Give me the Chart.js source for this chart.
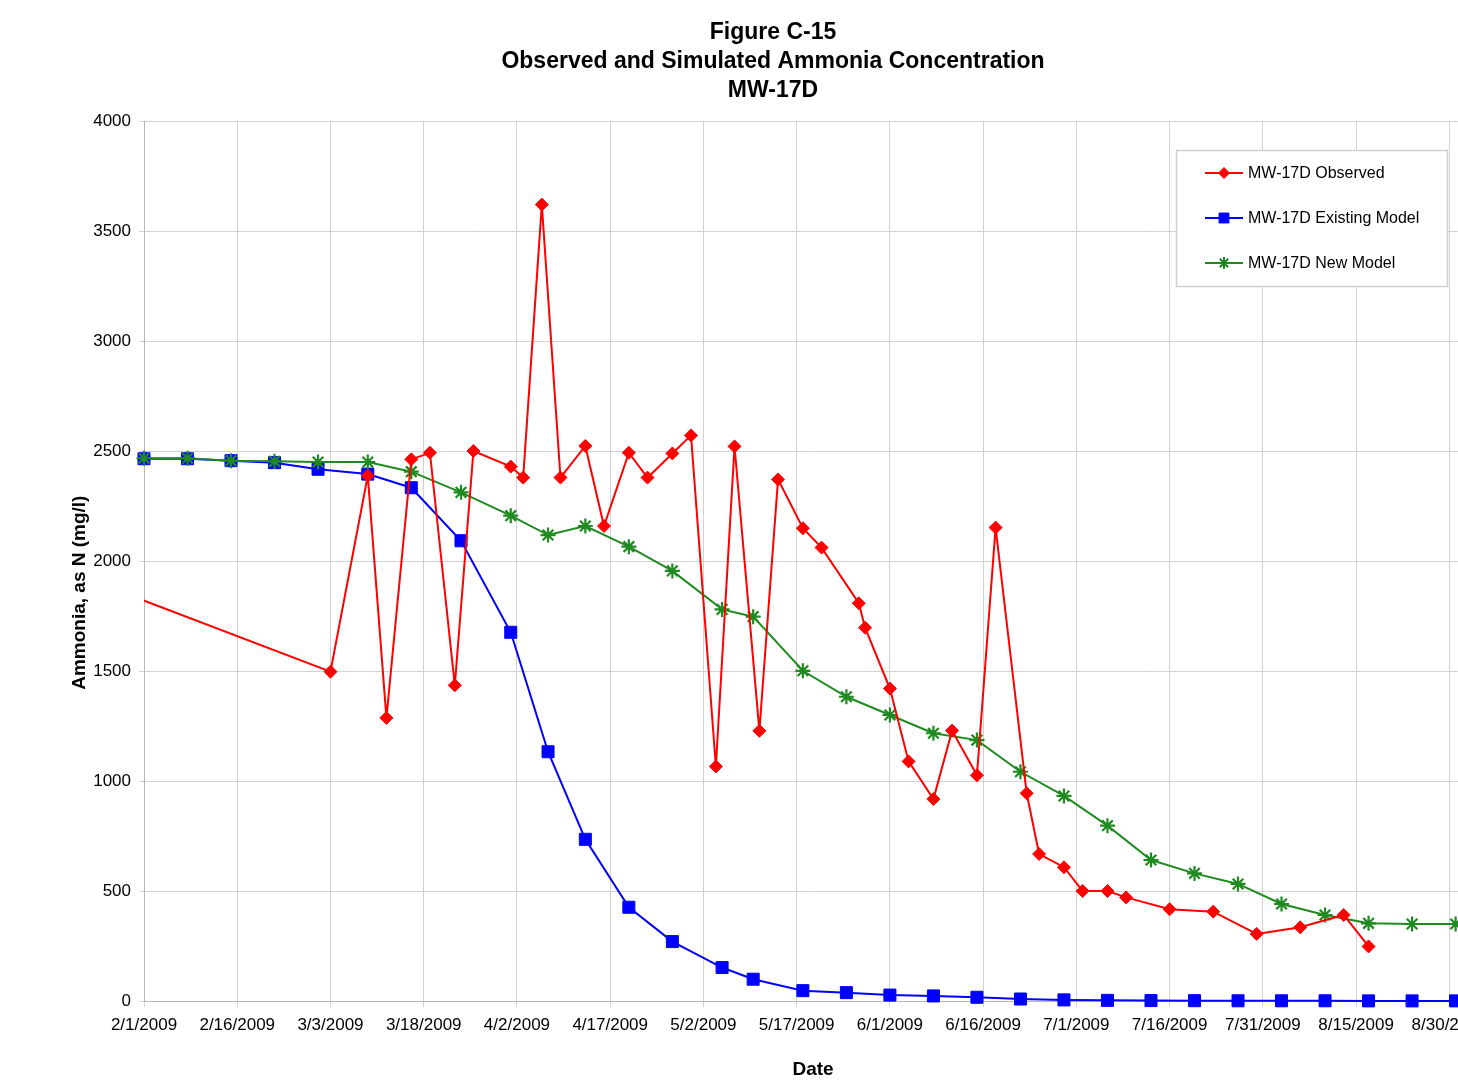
<!DOCTYPE html>
<html>
<head>
<meta charset="utf-8">
<script src="https://cdn.jsdelivr.net/npm/chart.js@4.4.1/dist/chart.umd.min.js"></script>
<style>
  html, body { margin: 0; padding: 0; background: #ffffff; overflow: hidden; }
  #wrap { width: 1458px; height: 1081px; overflow: hidden; position: relative; }
  #box { width: 1546px; height: 1081px; position: absolute; left: 0; top: 0; }
</style>
</head>
<body>
<div id="wrap"><div id="box"><canvas id="c"></canvas></div></div>
<script>
const titleLines = ["Figure C-15", "Observed and Simulated Ammonia Concentration", "MW-17D"];
const xAxisTitle = "Date";
const yAxisTitle = "Ammonia, as N (mg/l)";
const seriesNames = ["MW-17D Observed", "MW-17D Existing Model", "MW-17D New Model"];

const tickLabels = ["2/1/2009","2/16/2009","3/3/2009","3/18/2009","4/2/2009","4/17/2009","5/2/2009",
  "5/17/2009","6/1/2009","6/16/2009","7/1/2009","7/16/2009","7/31/2009","8/15/2009","8/30/2009"];
const yTicks = [0, 500, 1000, 1500, 2000, 2500, 3000, 3500, 4000];

const observedDates = ["1/6/2009","3/3/2009","3/9/2009","3/12/2009","3/16/2009","3/19/2009","3/23/2009","3/26/2009",
  "4/1/2009","4/3/2009","4/6/2009","4/9/2009","4/13/2009","4/16/2009","4/20/2009","4/23/2009","4/27/2009","4/30/2009",
  "5/4/2009","5/7/2009","5/11/2009","5/14/2009","5/18/2009","5/21/2009","5/27/2009","5/28/2009",
  "6/1/2009","6/4/2009","6/8/2009","6/11/2009","6/15/2009","6/18/2009","6/23/2009","6/25/2009","6/29/2009",
  "7/2/2009","7/6/2009","7/9/2009","7/16/2009","7/23/2009","7/30/2009","8/6/2009","8/13/2009","8/17/2009"];
const observedValues = [2100, 1497, 2388, 1287, 2462, 2492, 1435, 2500,
  2429, 2379, 3620, 2379, 2523, 2159, 2492, 2379, 2489, 2571,
  1066, 2521, 1228, 2371, 2149, 2061, 1808, 1697,
  1420, 1089, 918, 1229, 1026, 2152, 944, 668, 608,
  500, 500, 471, 417, 406, 305, 335, 391, 248];

const modelDates = ["2/1/2009","2/8/2009","2/15/2009","2/22/2009","3/1/2009","3/9/2009","3/16/2009","3/24/2009",
  "4/1/2009","4/7/2009","4/13/2009","4/20/2009","4/27/2009","5/5/2009","5/10/2009","5/18/2009","5/25/2009",
  "6/1/2009","6/8/2009","6/15/2009","6/22/2009","6/29/2009","7/6/2009","7/13/2009","7/20/2009","7/27/2009",
  "8/3/2009","8/10/2009","8/17/2009","8/24/2009","8/31/2009"];
const existingValues = [2465, 2465, 2456, 2447, 2417, 2395, 2333, 2092,
  1676, 1133, 735, 426, 270, 152, 99, 47, 38,
  27, 23, 17, 9, 5, 3, 2, 1.5, 1, 1,
  1, 0.5, 0.5, 0.5];
const newValues = [2467, 2467, 2456, 2453, 2450, 2450, 2406, 2312,
  2206, 2118, 2159, 2065, 1955, 1780, 1747, 1501, 1383,
  1300, 1217, 1186, 1042, 932, 797, 641, 580, 532,
  441, 391, 353, 350, 350];

const ORIGIN = Date.UTC(2009, 1, 1);
function dayOf(s) {
  const [m, d, y] = s.split("/").map(Number);
  return (Date.UTC(y, m - 1, d) - ORIGIN) / 86400000;
}
function points(dates, values) {
  return dates.map((d, i) => ({ x: dayOf(d), y: values[i] }));
}

const FONT = '"Liberation Sans", Arial, Helvetica, sans-serif';
const RED = "#ff0000", BLUE = "#0000ff", GREEN = "#1f8a1f";

const legendPlugin = {
  id: "boxLegend",
  afterDraw(chart) {
    const ctx = chart.ctx;
    ctx.save();
    ctx.fillStyle = "#ffffff";
    ctx.strokeStyle = "#cfcfcf";
    ctx.lineWidth = 1.5;
    ctx.fillRect(1176, 150, 271, 136);
    ctx.strokeRect(1176.5, 150.5, 271, 136);
    const items = [
      { name: seriesNames[0], color: RED, style: "rectRot", r: 5.5, bw: 1, y: 173 },
      { name: seriesNames[1], color: BLUE, style: "rect", r: 7, bw: 1, y: 218 },
      { name: seriesNames[2], color: GREEN, style: "star", r: 6, bw: 2, y: 263 }
    ];
    items.forEach(it => {
      ctx.strokeStyle = it.color;
      ctx.lineWidth = 2;
      ctx.beginPath();
      ctx.moveTo(1205, it.y);
      ctx.lineTo(1243, it.y);
      ctx.stroke();
      ctx.fillStyle = it.color;
      ctx.strokeStyle = it.color;
      ctx.lineWidth = it.bw;
      Chart.helpers.drawPoint(ctx, { pointStyle: it.style, radius: it.r, borderWidth: it.bw, rotation: 0 }, 1224, it.y);
      ctx.fillStyle = "#000000";
      ctx.font = "16px " + FONT;
      ctx.textBaseline = "middle";
      ctx.textAlign = "left";
      ctx.fillText(it.name, 1248, it.y + 1);
    });
    ctx.restore();
  }
};

new Chart(document.getElementById("c"), {
  type: "line",
  data: {
    datasets: [
      {
        label: seriesNames[0],
        data: points(observedDates, observedValues),
        borderColor: RED, backgroundColor: RED,
        borderWidth: 2, pointStyle: "rectRot", pointRadius: 6.5, pointBorderWidth: 1,
        tension: 0, order: 1,
        clip: { left: 0, top: false, right: false, bottom: false }
      },
      {
        label: seriesNames[1],
        data: points(modelDates, existingValues),
        borderColor: BLUE, backgroundColor: BLUE,
        borderWidth: 2, pointStyle: "rect", pointRadius: 8.5, pointBorderWidth: 1,
        tension: 0, order: 3, clip: false
      },
      {
        label: seriesNames[2],
        data: points(modelDates, newValues),
        borderColor: GREEN, backgroundColor: GREEN,
        borderWidth: 2, pointStyle: "star", pointRadius: 7.5, pointBorderWidth: 2.2,
        tension: 0, order: 2, clip: false
      }
    ]
  },
  options: {
    responsive: true,
    maintainAspectRatio: false,
    animation: false,
    events: [],
    layout: { padding: 0 },
    plugins: {
      legend: { display: false },
      tooltip: { enabled: false },
      title: {
        display: true,
        text: titleLines,
        color: "#000000",
        font: { family: FONT, size: 23, weight: "bold", lineHeight: 29 / 23 },
        padding: { top: 18.5, bottom: 15.5 }
      }
    },
    scales: {
      x: {
        type: "linear",
        position: "bottom",
        min: 0,
        max: 215.25,
        afterBuildTicks: (s) => { s.ticks = tickLabels.map(t => ({ value: dayOf(t) })); },
        afterFit: (s) => { s.height = 80; },
        ticks: {
          autoSkip: false,
          maxRotation: 0,
          color: "#000000",
          font: { family: FONT, size: 17 },
          padding: 8,
          callback: (v, i) => tickLabels[i]
        },
        grid: { color: "#d2d2d2", lineWidth: 1, tickLength: 6, drawTicks: true },
        border: { color: "#b8b8b8", width: 1 },
        title: {
          display: true, text: xAxisTitle, color: "#000000",
          font: { family: FONT, size: 19, weight: "bold" },
          padding: { top: 0, bottom: 0 }
        }
      },
      y: {
        type: "linear",
        position: "left",
        min: 0,
        max: 4000,
        afterBuildTicks: (s) => { s.ticks = yTicks.map(v => ({ value: v })); },
        afterFit: (s) => { s.width = 144; },
        ticks: {
          color: "#000000",
          font: { family: FONT, size: 17 },
          padding: 8,
          callback: (v) => String(v)
        },
        grid: { color: "#d2d2d2", lineWidth: 1, tickLength: 5 },
        border: { color: "#b8b8b8", width: 1 },
        title: {
          display: true,
          text: yAxisTitle + "\u00a0".repeat(12),
          color: "#000000",
          font: { family: FONT, size: 19, weight: "bold" },
          padding: { top: 68.6, bottom: 0 }
        }
      },
      yRight: {
        type: "linear",
        position: "right",
        display: true,
        min: 0, max: 1,
        afterFit: (s) => { s.width = 64; },
        ticks: { display: false },
        grid: { display: false, drawTicks: false },
        border: { display: false }
      }
    }
  },
  plugins: [legendPlugin]
});
</script>
</body>
</html>
